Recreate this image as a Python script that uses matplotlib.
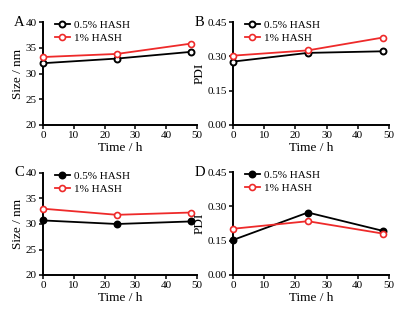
import matplotlib
matplotlib.use("Agg")
import matplotlib.pyplot as plt

plt.rcParams['font.family'] = ['Liberation Serif', 'DejaVu Serif']

time_h = [0, 24, 48]

# panel A: size, nm
size_a_05 = [32.0, 32.9, 34.2]
size_a_1 = [33.2, 33.8, 35.8]
# panel B: PDI
pdi_b_05 = [0.277, 0.315, 0.322]
pdi_b_1 = [0.303, 0.326, 0.382]
# panel C: size, nm
size_c_05 = [30.7, 30.0, 30.5]
size_c_1 = [33.0, 31.8, 32.25]
# panel D: PDI
pdi_d_05 = [0.153, 0.273, 0.193]
pdi_d_1 = [0.202, 0.235, 0.181]

labels = ["0.5% HASH", "1% HASH"]
size_ticks = [20, 25, 30, 35, 40]
pdi_ticks = [0.00, 0.15, 0.30, 0.45]
x_ticks = [0, 10, 20, 30, 40, 50]

fig = plt.figure(figsize=(4.03, 3.10), dpi=100)

# axes boxes in figure fraction (left, bottom, width, height)
boxes = {
    "A": [43 / 403, 1 - 125 / 310, 154 / 403, 103 / 310],
    "B": [233 / 403, 1 - 125 / 310, 156 / 403, 103 / 310],
    "C": [43 / 403, 1 - 275 / 310, 154 / 403, 102 / 310],
    "D": [233 / 403, 1 - 275 / 310, 156 / 403, 103 / 310],
}

panels = [
    ("A", size_a_05, size_a_1, "Size / nm", size_ticks, False),
    ("B", pdi_b_05, pdi_b_1, "PDI", pdi_ticks, False),
    ("C", size_c_05, size_c_1, "Size / nm", size_ticks, True),
    ("D", pdi_d_05, pdi_d_1, "PDI", pdi_ticks, True),
]

for name, s05, s1, ylab, yt, black_filled in panels:
    ax = fig.add_axes(boxes[name])
    ax.plot(time_h, s05, color="black", lw=1.3, marker="o", ms=4.3,
            mfc="black" if black_filled else "white", mec="black", mew=1.4,
            label=labels[0], clip_on=False, zorder=3)
    ax.plot(time_h, s1, color="#ee2a2a", lw=1.3, marker="o", ms=4.3,
            mfc="white", mec="#ee2a2a", mew=1.2,
            label=labels[1], clip_on=False, zorder=3)
    ax.set_xlim(0, 50)
    ax.set_ylim(yt[0], yt[-1])
    ax.set_xticks(x_ticks)
    ax.set_yticks(yt)
    if ylab == "PDI":
        ax.set_yticklabels([f"{v:.2f}" for v in yt])
    ax.spines["top"].set_visible(False)
    ax.spines["right"].set_visible(False)
    ax.spines["left"].set_linewidth(1.4)
    ax.spines["bottom"].set_linewidth(1.4)
    ax.tick_params(direction="out", length=3, width=1.1, labelsize=8, pad=1.5)
    ax.set_xlabel("Time / h", fontsize=9.5, labelpad=1)
    ax.set_ylabel(ylab, fontsize=9.5, labelpad=1)
    ax.legend(loc="upper left", bbox_to_anchor=(0.05, 1.06), frameon=False,
              fontsize=8, handlelength=1.3, handletextpad=0.4,
              labelspacing=0.3, borderaxespad=0)
    bx = boxes[name]
    fig.text(bx[0] - (29 if name in "AC" else 38) / 403,
             bx[1] + bx[3], name, fontsize=10.5, ha="left", va="center")

fig.savefig("out.png", dpi=100)
